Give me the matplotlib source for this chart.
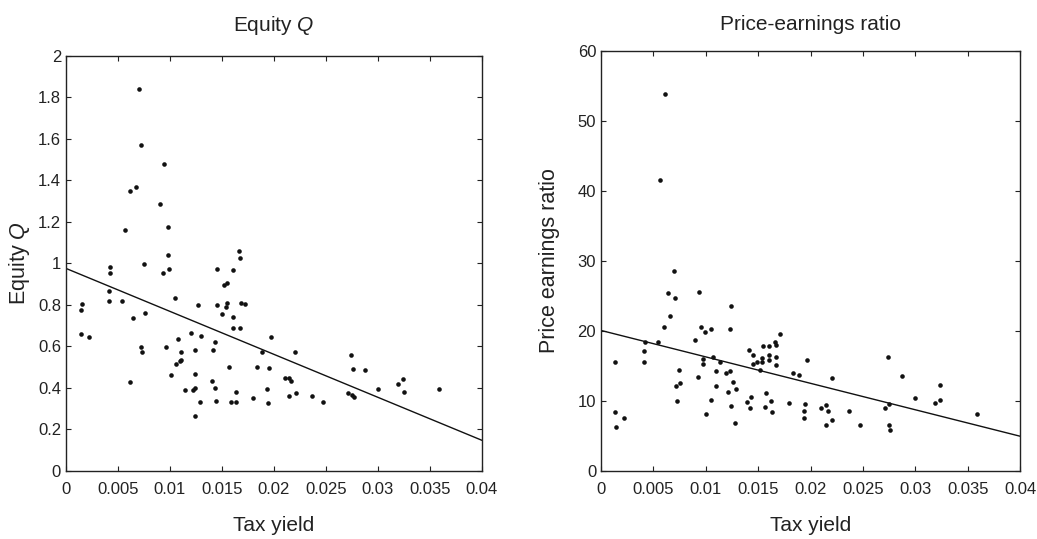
import matplotlib
matplotlib.use("Agg")
import matplotlib.pyplot as plt
from matplotlib.ticker import FuncFormatter

plt.rcParams["font.family"] = ["Liberation Sans", "DejaVu Sans"]
plt.rcParams["mathtext.fontset"] = "custom"
plt.rcParams["mathtext.rm"] = "Liberation Sans"
plt.rcParams["mathtext.it"] = "Liberation Sans:italic"

# tax yield vs equity Q (left panel)
q_tax = [0.00702, 0.00718, 0.0094, 0.0067, 0.00621, 0.00902, 0.0057, 0.00979, 0.00979,
         0.01668, 0.01674, 0.00425, 0.00419, 0.00747, 0.00934, 0.00995, 0.01452, 0.0161,
         0.0152, 0.01546, 0.00155, 0.00145, 0.00415, 0.00412, 0.00544, 0.01053, 0.00641,
         0.00757, 0.01269, 0.01452, 0.01553, 0.01543, 0.01501, 0.01681, 0.0172, 0.0161,
         0.01604, 0.01678, 0.00145, 0.00225, 0.01201, 0.01295, 0.01076, 0.01437, 0.01969,
         0.00722, 0.00734, 0.0096, 0.01108, 0.01243, 0.01417, 0.0189, 0.01108, 0.01095,
         0.01059, 0.01572, 0.01842, 0.01952, 0.01012, 0.01243, 0.00612, 0.01404, 0.01143,
         0.01224, 0.01246, 0.01433, 0.01633, 0.018, 0.01939, 0.01942, 0.01292, 0.0144,
         0.01588, 0.0164, 0.01243, 0.02206, 0.0211, 0.02148, 0.02167, 0.02148, 0.0221,
         0.0237, 0.02477, 0.02744, 0.0276, 0.02879, 0.02718, 0.02751, 0.0277, 0.03002,
         0.03198, 0.0324, 0.0325, 0.03594]
equity_q = [1.838, 1.570, 1.478, 1.366, 1.348, 1.287, 1.158, 1.174, 1.040,
            1.060, 1.027, 0.983, 0.953, 0.998, 0.951, 0.972, 0.974, 0.967,
            0.895, 0.906, 0.803, 0.774, 0.866, 0.818, 0.819, 0.834, 0.737,
            0.762, 0.800, 0.797, 0.808, 0.790, 0.757, 0.808, 0.803, 0.741,
            0.688, 0.688, 0.659, 0.643, 0.665, 0.649, 0.635, 0.622, 0.643,
            0.596, 0.570, 0.595, 0.574, 0.580, 0.582, 0.572, 0.533, 0.527,
            0.513, 0.501, 0.498, 0.493, 0.460, 0.465, 0.429, 0.431, 0.387,
            0.387, 0.397, 0.398, 0.381, 0.352, 0.392, 0.326, 0.331, 0.337,
            0.331, 0.331, 0.264, 0.572, 0.448, 0.448, 0.432, 0.362, 0.373,
            0.360, 0.333, 0.556, 0.492, 0.484, 0.373, 0.365, 0.355, 0.394,
            0.418, 0.443, 0.378, 0.395]

# tax yield vs price-earnings ratio (right panel)
pe_tax = [0.00615, 0.00565, 0.00696, 0.00635, 0.00708, 0.00931, 0.01237, 0.0066, 0.00603,
          0.00954, 0.00989, 0.01046, 0.01234, 0.0171, 0.00424, 0.00539, 0.00896, 0.00414,
          0.00137, 0.00408, 0.0141, 0.01448, 0.01547, 0.01601, 0.01665, 0.01671, 0.01671,
          0.01601, 0.01538, 0.01601, 0.01668, 0.01448, 0.0149, 0.01538, 0.01522, 0.00973,
          0.00973, 0.01069, 0.01136, 0.0074, 0.01094, 0.0119, 0.01234, 0.00925, 0.00749,
          0.00711, 0.011, 0.0126, 0.01289, 0.01212, 0.00724, 0.0105, 0.01432, 0.01397,
          0.01579, 0.01624, 0.01793, 0.01237, 0.01426, 0.01563, 0.0163, 0.01002, 0.01282,
          0.00137, 0.00217, 0.00146, 0.01837, 0.01885, 0.01965, 0.02201, 0.02737, 0.02871,
          0.03232, 0.02998, 0.0319, 0.03237, 0.03585, 0.02753, 0.02711, 0.02746, 0.02759,
          0.01946, 0.01933, 0.01933, 0.02102, 0.02144, 0.02163, 0.02201, 0.02144, 0.02367,
          0.02472]
pe_ratio = [53.9, 41.5, 28.6, 25.4, 24.7, 25.5, 23.5, 22.1, 20.6,
            20.6, 19.9, 20.3, 20.3, 19.5, 18.4, 18.4, 18.7, 17.1,
            15.5, 15.5, 17.2, 16.5, 17.8, 17.8, 18.4, 18.0, 16.3,
            16.5, 16.1, 15.8, 15.1, 15.2, 15.6, 15.5, 14.4, 16.0,
            15.2, 16.3, 15.5, 14.4, 14.2, 14.0, 14.3, 13.4, 12.6,
            12.1, 12.1, 12.7, 11.7, 11.2, 10.0, 10.1, 10.6, 9.8,
            11.1, 9.9, 9.7, 9.2, 8.9, 9.1, 8.4, 8.1, 6.8,
            8.4, 7.6, 6.2, 13.9, 13.7, 15.8, 13.3, 16.3, 13.6,
            12.3, 10.4, 9.7, 10.1, 8.1, 9.6, 8.9, 6.5, 5.8,
            9.6, 8.5, 7.5, 8.9, 9.4, 8.6, 7.3, 6.5, 8.5,
            6.5]

# fitted lines (intercept, slope)
q_fit = (0.975, -20.7)
pe_fit = (20.05, -378.0)

x_ticks = [0, 0.005, 0.01, 0.015, 0.02, 0.025, 0.03, 0.035, 0.04]
q_ticks = [0, 0.2, 0.4, 0.6, 0.8, 1, 1.2, 1.4, 1.6, 1.8, 2]
pe_ticks = [0, 10, 20, 30, 40, 50, 60]

TEXT = "#222222"


def style_axes(ax):
    for sp in ax.spines.values():
        sp.set_linewidth(1.0)
        sp.set_color("#222222")
    ax.tick_params(direction="in", top=True, right=True, length=3.5, width=0.8,
                   labelsize=12, colors="#222222", labelcolor=TEXT)
    ax.tick_params(axis="x", pad=8)
    ax.tick_params(axis="y", pad=3.5)
    ax.xaxis.set_major_formatter(FuncFormatter(lambda v, p: "%g" % round(v, 4)))
    ax.yaxis.set_major_formatter(FuncFormatter(lambda v, p: "%g" % round(v, 4)))


def draw_panel(ax, xs, ys, fit, yticks, ylim, title, ylabel, title_pad, ylabel_pad):
    ax.plot(xs, ys, "o", color="#111111", markersize=3.3, markeredgewidth=0)
    line_x = [0, 0.04]
    line_y = [fit[0] + fit[1] * v for v in line_x]
    ax.plot(line_x, line_y, color="#111111", linewidth=1.0)
    ax.set_xlim(0, 0.04)
    ax.set_ylim(*ylim)
    ax.set_xticks(x_ticks)
    ax.set_yticks(yticks)
    style_axes(ax)
    ax.set_title(title, fontsize=15, color=TEXT, pad=title_pad)
    ax.set_xlabel("Tax yield", fontsize=15, color=TEXT, labelpad=14)
    ax.set_ylabel(ylabel, fontsize=15.5, color=TEXT, labelpad=ylabel_pad)


fig = plt.figure(figsize=(10.37, 5.39), dpi=100)
ax1 = fig.add_axes([0.0636, 0.1267, 0.4009, 0.7699])
ax2 = fig.add_axes([0.5796, 0.1267, 0.4041, 0.7787])

draw_panel(ax1, q_tax, equity_q, q_fit, q_ticks, (0, 2),
           r"Equity $Q$", r"Equity $Q$", 18, 4)
draw_panel(ax2, pe_tax, pe_ratio, pe_fit, pe_ticks, (0, 60),
           "Price-earnings ratio", "Price earnings ratio", 15, 13)

fig.savefig("out.png", dpi=100)
plt.close(fig)
